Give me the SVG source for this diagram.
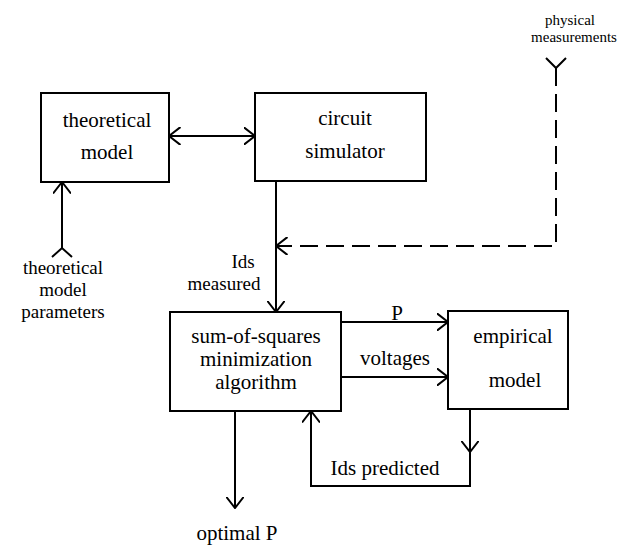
<svg xmlns="http://www.w3.org/2000/svg" width="620" height="548" viewBox="0 0 620 548">
<style>
.box{fill:#fff;stroke:#000;stroke-width:2}
.t{font-family:"Liberation Serif","Times New Roman",serif;font-size:21px;fill:#000;text-anchor:middle}
.s{font-size:15px}
.m{font-size:19px}
.ln{fill:none;stroke:#000;stroke-width:2}
.dash{stroke-dasharray:18 8}
</style>
<defs>
<marker id="ah" viewBox="0 0 12 18" refX="11.5" refY="9" markerWidth="12" markerHeight="18" markerUnits="userSpaceOnUse" orient="auto-start-reverse">
<path d="M0,0 L11.5,9 L0,18" fill="none" stroke="#000" stroke-width="2"/>
</marker>
</defs>
<rect width="620" height="548" fill="#fff"/>
<g id="theoretical-model">
<rect class="box" x="41" y="93" width="128" height="89"/>
<text class="t" x="107" y="127">theoretical</text>
<text class="t" x="107" y="159">model</text>
</g>
<g id="circuit-simulator">
<rect class="box" x="255" y="93" width="171" height="88"/>
<text class="t" x="345" y="125">circuit</text>
<text class="t" x="345" y="158">simulator</text>
</g>
<g id="sum-of-squares">
<rect class="box" x="170" y="312" width="171" height="99"/>
<text class="t" x="256" y="343">sum-of-squares</text>
<text class="t" x="256" y="366">minimization</text>
<text class="t" x="256" y="389">algorithm</text>
</g>
<g id="empirical-model">
<rect class="box" x="448" y="311" width="120" height="98"/>
<text class="t" x="513" y="343">empirical</text>
<text class="t" x="515" y="387">model</text>
</g>
<g id="theoretical-model-parameters">
<text class="t m" x="63" y="274">theoretical</text>
<text class="t m" x="63" y="296">model</text>
<text class="t m" x="63" y="318">parameters</text>
</g>
<g id="physical-measurements">
<text class="t s" x="570" y="25">physical</text>
<text class="t s" x="574" y="42">measurements</text>
</g>
<g id="optimal-P">
<text class="t" x="237" y="540">optimal P</text>
</g>
<g id="connectors">
<path class="ln" d="M169,136 H255" marker-start="url(#ah)" marker-end="url(#ah)"/>
<path class="ln" d="M62,248 V182" marker-end="url(#ah)"/>
<path class="ln" d="M52,257 L62,248 L72,257"/>
<path class="ln" d="M546,58 L556,68 L566,58"/>
<path class="ln dash" d="M556,68 V246 H276" marker-end="url(#ah)"/>
<path class="ln" d="M276,181 V312" marker-end="url(#ah)"/>
<text class="t m" x="243" y="268">Ids</text>
<text class="t m" x="224" y="290">measured</text>
<path class="ln" d="M341,322 H448" marker-end="url(#ah)"/>
<text class="t" x="397" y="320">P</text>
<path class="ln" d="M341,377 H448" marker-end="url(#ah)"/>
<text class="t" x="395" y="365">voltages</text>
<path class="ln" d="M470,409 V452" marker-end="url(#ah)"/>
<path class="ln" d="M470,450 V486 H311 V411" marker-end="url(#ah)"/>
<text class="t" x="385" y="475">Ids predicted</text>
<path class="ln" d="M235,411 V508" marker-end="url(#ah)"/>
</g>
</svg>
